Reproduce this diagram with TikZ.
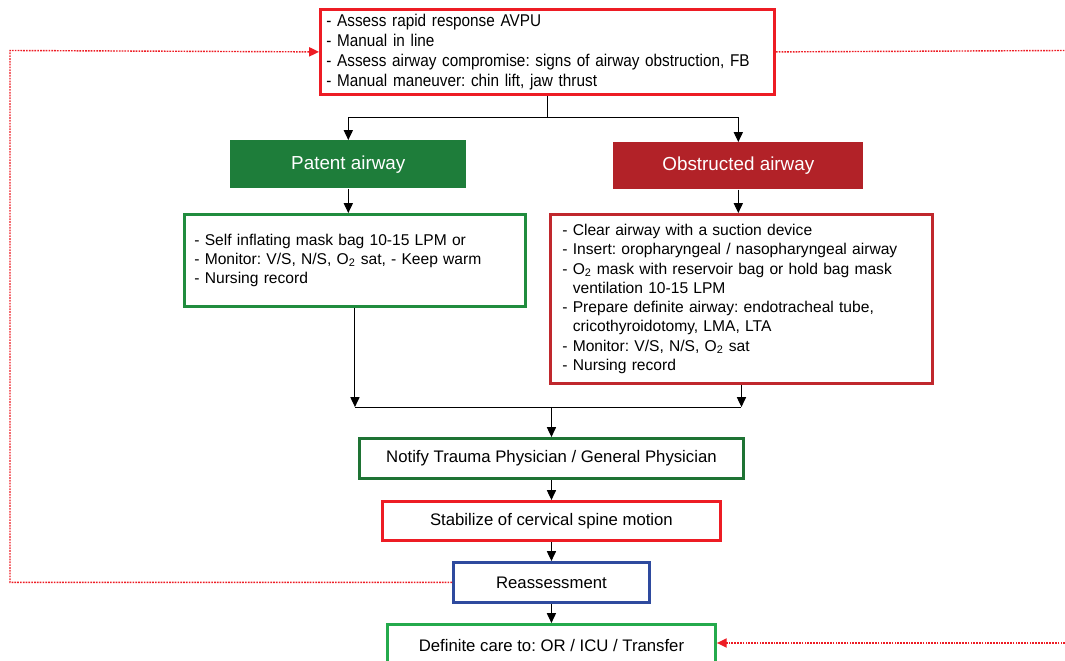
\documentclass[tikz,border=0pt]{standalone}
\usepackage{fontspec}
\setmainfont{Liberation Sans}
\newfontfamily\narrowsf[FakeStretch=0.9]{Liberation Sans}
\usetikzlibrary{arrows.meta}
\frenchspacing
\definecolor{brightred}{RGB}{237,28,36}
\definecolor{deepred}{RGB}{178,34,40}
\definecolor{boxred}{RGB}{192,40,45}
\definecolor{deepgreen}{RGB}{30,125,58}
\definecolor{boxgreen}{RGB}{32,140,62}
\definecolor{darkgreen}{RGB}{30,115,52}
\definecolor{lightgreen}{RGB}{36,170,76}
\definecolor{navy}{RGB}{46,74,158}
\begin{document}
\begin{tikzpicture}[>={Triangle[length=7pt,width=6.5pt]},x=0.025cm,y=-0.025cm,
    box/.style={draw,line width=2pt,anchor=north west,inner ysep=0pt,align=left,font=\fontsize{11.1}{13.7}\selectfont},
    head/.style={anchor=north west,inner sep=0pt,text=white,font=\fontsize{13.4}{15}\selectfont},
    stepbox/.style={draw,line width=2pt,anchor=north west,inner sep=0pt,font=\fontsize{11.9}{13}\selectfont},
    link/.style={->,line width=0.7pt},
    loopback/.style={line width=1pt,brightred,dash pattern=on 1.2pt off 0.8pt}]
    \useasboundingbox (0,0) rectangle (1065,661);
    \node[box,brightred,text=black,inner xsep=0.15cm,text width=11.05cm,minimum height=2.125cm,font=\narrowsf\fontsize{12.1}{14.2}\selectfont](top)at(319,8){- Assess rapid response AVPU\\- Manual in line\\- Assess airway compromise: signs of airway obstruction, FB\\- Manual maneuver: chin lift, jaw thrust};
    \node[head,fill=deepgreen,minimum width=5.9cm,minimum height=1.2cm](patent)at(230,140){Patent airway};
    \node[head,fill=deepred,minimum width=6.25cm,minimum height=1.175cm](obstructed)at(613,142){Obstructed airway};
    \node[box,boxgreen,text=black,inner xsep=0.25cm,text width=8.025cm,minimum height=2.3cm](patentbox)at(183,213){- Self inflating mask bag 10-15 LPM or\\- Monitor: V/S, N/S, O\textsubscript{2} sat, - Keep warm\\- Nursing record};
    \node[box,boxred,text=black,inner xsep=0.3cm,text width=8.95cm,minimum height=4.225cm](obstrbox)at(549,213){- Clear airway with a suction device\\- Insert: oropharyngeal / nasopharyngeal airway\\- O\textsubscript{2} mask with reservoir bag or hold bag mask\\\phantom{- }ventilation 10-15 LPM\\- Prepare definite airway: endotracheal tube,\\\phantom{- }cricothyroidotomy, LMA, LTA\\- Monitor: V/S, N/S, O\textsubscript{2} sat\\- Nursing record};
    \node[stepbox,darkgreen,text=black,minimum width=9.6cm,minimum height=1cm](notify)at(358,437){Notify Trauma Physician / General Physician};
    \node[stepbox,brightred,text=black,minimum width=8.45cm,minimum height=0.975cm](stabilize)at(381,500){Stabilize of cervical spine motion};
    \node[stepbox,navy,text=black,minimum width=4.9cm,minimum height=1cm](reassess)at(452,561){Reassessment};
    \node[stepbox,lightgreen,text=black,minimum width=8.2cm,minimum height=1.05cm](definite)at(386,623){Definite care to: OR / ICU / Transfer};
    \path(top.south)++(0,22)coordinate(split);
    \path(notify.north)++(0,-30)coordinate(merge);
    \coordinate(loopleft)at(10,50.5);
    \coordinate(loopright)at(1065,50.5);
    \coordinate(backright)at(1065,643);
    \draw[line width=0.7pt](top.south)--(split);
    \draw[link](split)-|(patent.north);
    \draw[link](split)-|(obstructed.north);
    \draw[link](patent.south)--(patent.south|-patentbox.north);
    \draw[link](obstructed.south)--(obstructed.south|-obstrbox.north);
    \draw[link](patentbox.south)--(patentbox.south|-merge);
    \draw[link](obstrbox.south)--(obstrbox.south|-merge);
    \draw[line width=0.7pt](patentbox.south|-merge)--(obstrbox.south|-merge);
    \draw[link](merge)--(notify.north);
    \draw[link](notify.south)--(notify.south|-stabilize.north);
    \draw[link](stabilize.south)--(stabilize.south|-reassess.north);
    \draw[link](reassess.south)--(reassess.south|-definite.north);
    \draw[loopback,->](reassess.west)-|(loopleft)--(top.west);
    \draw[loopback](top.east)--(loopright);
    \draw[loopback,->](backright)--(definite.east|-backright);
\end{tikzpicture}
\end{document}
